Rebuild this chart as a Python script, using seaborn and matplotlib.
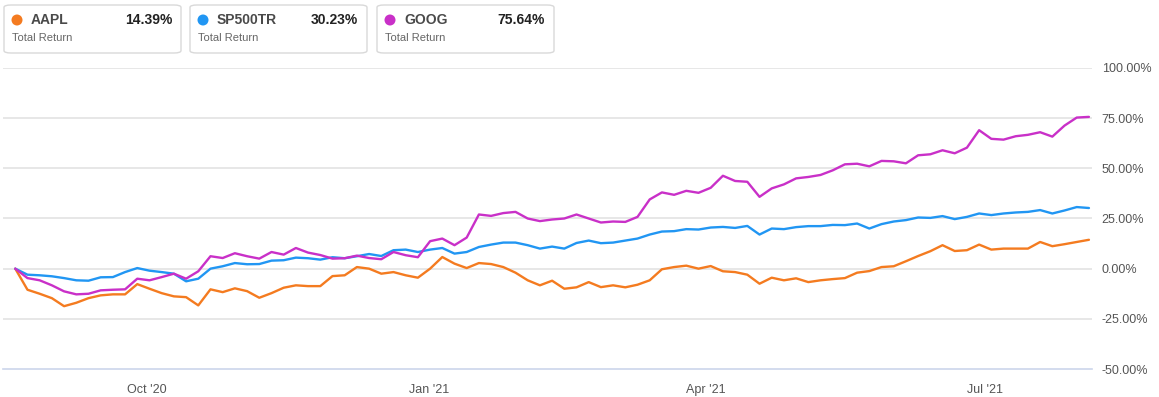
import numpy as np
import pandas as pd
import matplotlib
matplotlib.use("Agg")
import matplotlib.pyplot as plt
from matplotlib.patches import FancyBboxPatch, Ellipse
import seaborn as sns

# ---------------- data ----------------
start_date = "2020-08-19"
end_date = "2021-08-04"

aapl = [0, -10.5, -12.5, -14.7, -18.7, -17, -14.7, -13.3, -12.8, -12.8,
        -7.7, -10, -12.2, -13.8, -14.2, -18.3, -10.3, -11.7, -9.8, -11.2,
        -14.5, -12.2, -9.5, -8.3, -8.7, -8.7, -3.7, -3.3, 0.8, 0,
        -2.5, -1.7, -3.3, -4.5, 0, 5.8, 2.5, 0.3, 2.8, 2.3,
        0.8, -2, -5.8, -8.3, -6, -10, -9.3, -6.7, -9.2, -8.3,
        -9.3, -8, -5.8, -0.3, 0.8, 1.5, 0, 1.3, -1.3, -1.7,
        -3, -7.5, -4.5, -5.8, -4.8, -6.7, -5.8, -5.2, -4.7, -2,
        -1.2, 0.8, 1.2, 3.7, 6.3, 8.7, 11.7, 8.8, 9.2, 12,
        9.5, 10, 10, 10, 13.3, 11.2, 12.2, 13.3, 14.39]

sp500tr = [0, -3, -3.3, -3.8, -4.7, -5.8, -6, -4.3, -4.2, -1.7,
           0.3, -1, -1.7, -2.5, -6.3, -5, 0, 1.2, 2.8, 2.2,
           2.3, 4, 4.2, 5.5, 5.2, 4.5, 5.7, 5.2, 6.2, 7.3,
           6.3, 9.2, 9.5, 8.3, 9.5, 10.3, 7.5, 8.3, 10.8, 12,
           13, 13, 11.7, 10, 11, 10, 12.8, 14, 12.7, 13,
           14, 15, 17, 18.5, 18.7, 19.7, 19.5, 20.5, 20.8, 20.3,
           21.3, 17, 20, 19.7, 20.7, 21.2, 21.2, 21.8, 21.7, 22.5,
           20, 22.2, 23.5, 24.2, 25.5, 25.3, 26.2, 24.7, 25.8, 27.5,
           26.7, 27.5, 28, 28.3, 29.2, 27.5, 29, 30.7, 30.23]

goog = [0, -4.7, -5.8, -8.3, -11.3, -12.8, -12.5, -10.8, -10.5, -10.3,
        -5, -5.8, -4.2, -2.5, -5, -1.3, 6.2, 5.3, 7.7, 6.2,
        5, 8.3, 7, 10.3, 8, 6.8, 5, 5.2, 6.5, 5.3,
        4.7, 8.3, 6.7, 5.7, 13.7, 15, 11.7, 15.5, 27, 26.3,
        27.7, 28.3, 25, 23.7, 24.5, 25, 27, 25, 23, 23.5,
        23.3, 25.8, 34.5, 38, 36.8, 38.8, 37.8, 40.3, 46.3, 43.7,
        43.3, 35.8, 40, 42, 45, 45.7, 46.7, 49, 52, 52.3,
        51, 53.7, 53.5, 52.5, 56.5, 57, 59, 57.5, 60.3, 69,
        64.7, 64.3, 66, 66.7, 68, 65.8, 71.3, 75.3, 75.64]

series_names = ["AAPL", "SP500TR", "GOOG"]
final_labels = ["14.39%", "30.23%", "75.64%"]
colors = ["#f47b20", "#2196f3", "#c930c8"]
ytick_vals = [-50, -25, 0, 25, 50, 75, 100]
xtick_dates = ["2020-10-01", "2021-01-01", "2021-04-01", "2021-07-01"]
xtick_labels = ["Oct '20", "Jan '21", "Apr '21", "Jul '21"]

dates = pd.date_range(start_date, end_date, periods=len(aapl))
frames = []
for name, vals in zip(series_names, [aapl, sp500tr, goog]):
    frames.append(pd.DataFrame({"date": dates, "value": vals, "series": name}))
df = pd.concat(frames, ignore_index=True)

# ---------------- figure ----------------
sns.set_style("white")
plt.rcParams["font.family"] = ["Liberation Sans", "DejaVu Sans"]

W, H = 1159, 397
fig = plt.figure(figsize=(W / 100, H / 100), dpi=100)
ax = fig.add_axes([3 / W, (H - 369) / H, 1089 / W, 301 / H])

sns.lineplot(data=df, x="date", y="value", hue="series",
             hue_order=series_names, palette=colors, linewidth=1.7,
             ax=ax, legend=False, zorder=3)

ax.set_xlim(pd.Timestamp("2020-08-15"), pd.Timestamp("2021-08-05"))
ax.set_ylim(-50, 100)
ax.set_xlabel("")
ax.set_ylabel("")

ax.yaxis.tick_right()
ax.set_yticks(ytick_vals)
ax.set_yticklabels([f"{v:.2f}%" for v in ytick_vals])
ax.tick_params(axis="y", length=0, pad=7, labelsize=9, labelcolor="#555555")
for v in ytick_vals[1:]:
    ax.axhline(v, color="#e3e3e3", linewidth=1.2, zorder=1)

ax.set_xticks([pd.Timestamp(d) for d in xtick_dates])
ax.set_xticklabels(xtick_labels)
ax.tick_params(axis="x", length=8, width=1, color="#ccd6eb", pad=3,
               labelsize=9, labelcolor="#555555", direction="out")

for s in ["top", "left", "right"]:
    ax.spines[s].set_visible(False)
ax.spines["bottom"].set_color("#ccd6eb")
ax.spines["bottom"].set_linewidth(1.2)

# ---------------- legend boxes ----------------
box_lefts = [4, 190, 377]
box_w, box_top, box_bot = 177, 5, 53
for left, name, lab, col in zip(box_lefts, series_names, final_labels, colors):
    bx = FancyBboxPatch((left / W, 1 - box_bot / H), box_w / W, (box_bot - box_top) / H,
                        boxstyle="round,pad=0,rounding_size=0.006",
                        transform=fig.transFigure, facecolor="white",
                        edgecolor="#d9d9d9", linewidth=1.0)
    fig.patches.append(bx)
    fig.patches.append(Ellipse(((left + 13) / W, 1 - 20 / H), 11 / W, 11 / H,
                               transform=fig.transFigure, facecolor=col,
                               edgecolor="none"))
    fig.text((left + 27) / W, 1 - 20 / H, name, ha="left", va="center",
             fontsize=10, fontweight="bold", color="#4a4a4a")
    fig.text((left + box_w - 9) / W, 1 - 20 / H, lab, ha="right", va="center",
             fontsize=10, fontweight="bold", color="#222222")
    fig.text((left + 8) / W, 1 - 38 / H, "Total Return", ha="left", va="center",
             fontsize=8, color="#666666")

fig.savefig("out.png", dpi=100)
